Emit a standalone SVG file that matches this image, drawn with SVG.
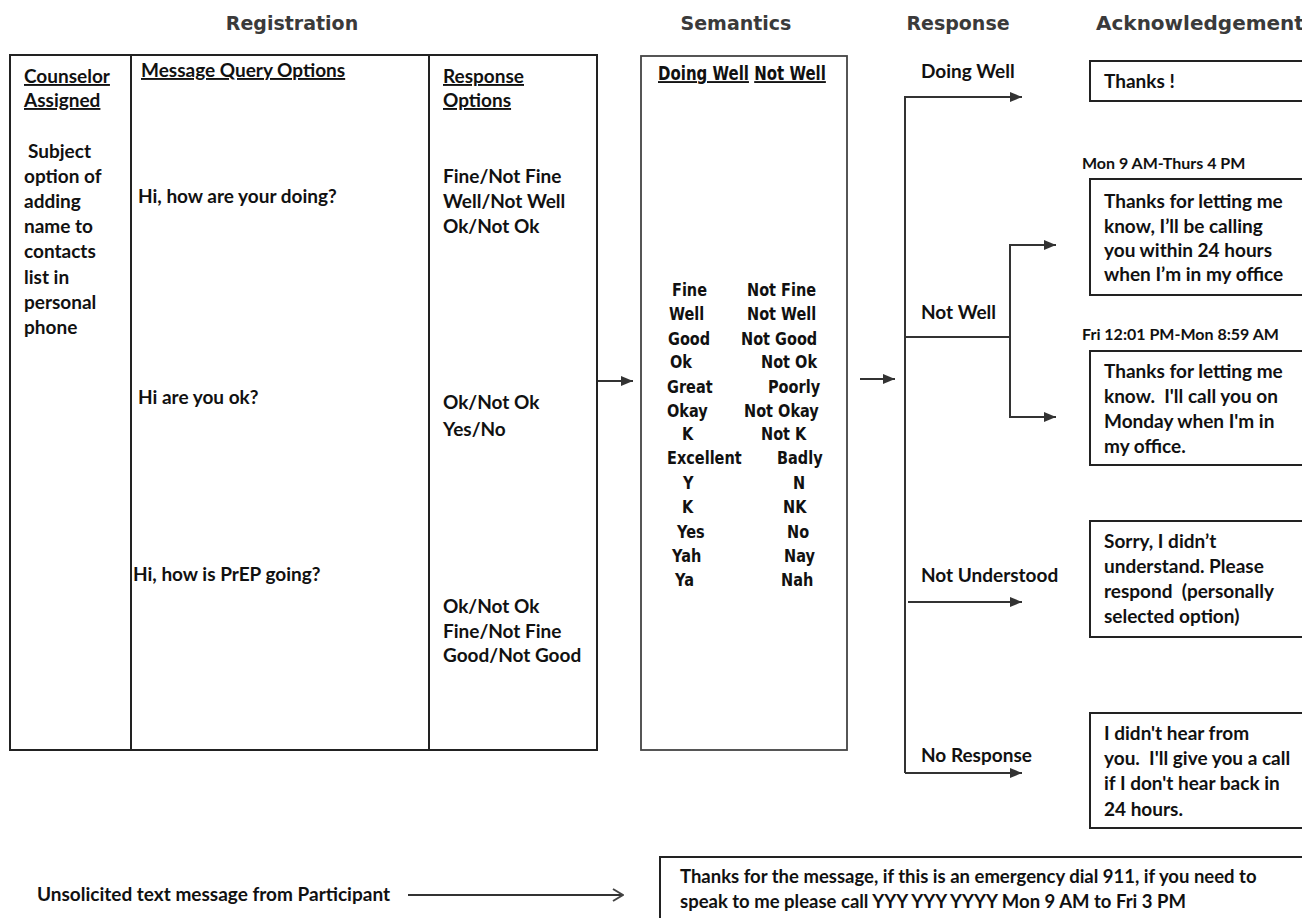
<svg xmlns="http://www.w3.org/2000/svg" width="1302" height="918" viewBox="0 0 1302 918">
<defs>
<style>
.h{font-family:"DejaVu Sans","Liberation Sans",sans-serif;font-weight:bold;font-size:19px;fill:#3a3a3a}
.t{font-family:Lato,"Liberation Sans",sans-serif;font-weight:bold;font-size:19px;fill:#111}
.sm{font-family:Lato,"Liberation Sans",sans-serif;font-weight:bold;font-size:16px;fill:#111}
.b{font-family:Lato,"Liberation Sans",sans-serif;font-weight:bold;font-size:18.5px;fill:#111}
.s{font-family:"DejaVu Sans","Liberation Sans",sans-serif;font-weight:bold;font-size:14.5px;fill:#111}
.u{text-decoration:underline}
.box{fill:#fff;stroke:#222;stroke-width:2}
.sbox{fill:#fff;stroke:#444;stroke-width:1.8}
.ln{fill:none;stroke:#222;stroke-width:2}
.conn{fill:none;stroke:#333;stroke-width:2}
</style>
<marker id="ah" markerUnits="userSpaceOnUse" markerWidth="12" markerHeight="10" viewBox="0 0 12 10" refX="12" refY="5" orient="auto"><path d="M0,0 L12,5 L0,10 z" fill="#333"/></marker>
<marker id="oh" markerUnits="userSpaceOnUse" markerWidth="12" markerHeight="14" viewBox="0 0 12 14" refX="11" refY="7" orient="auto"><path d="M1,1 L11,7 L1,13" fill="none" stroke="#444" stroke-width="2"/></marker>
</defs>
<rect width="1302" height="918" fill="#fff"/>

<g id="headers">
<text class="h" x="292" y="30" text-anchor="middle">Registration</text>
<text class="h" x="736" y="30" text-anchor="middle">Semantics</text>
<text class="h" x="958" y="30" text-anchor="middle">Response</text>
<text class="h" x="1096" y="30" style="font-size:20px">Acknowledgement</text>
</g>

<g id="registration">
<rect class="box" x="10" y="55" width="587" height="695"/>
<line class="ln" x1="131" y1="55" x2="131" y2="750"/>
<line class="ln" x1="429" y1="55" x2="429" y2="750"/>
<text class="t u" x="24" y="83">Counselor</text>
<text class="t u" x="24" y="107">Assigned</text>
<text class="t" x="28" y="158">Subject</text>
<text class="t" x="24" y="183">option of</text>
<text class="t" x="24" y="208">adding</text>
<text class="t" x="24" y="233">name to</text>
<text class="t" x="24" y="258">contacts</text>
<text class="t" x="24" y="284">list in</text>
<text class="t" x="24" y="309">personal</text>
<text class="t" x="24" y="334">phone</text>
<text class="t u" x="141" y="77">Message Query Options</text>
<text class="t" x="138" y="203">Hi, how are your doing?</text>
<text class="t" x="138" y="404">Hi are you ok?</text>
<text class="t" x="133" y="581">Hi, how is PrEP going?</text>
<text class="t u" x="443" y="83">Response</text>
<text class="t u" x="443" y="107">Options</text>
<text class="t" x="443" y="183">Fine/Not Fine</text>
<text class="t" x="443" y="208">Well/Not Well</text>
<text class="t" x="443" y="233">Ok/Not Ok</text>
<text class="t" x="443" y="409">Ok/Not Ok</text>
<text class="t" x="443" y="436">Yes/No</text>
<text class="t" x="443" y="613">Ok/Not Ok</text>
<text class="t" x="443" y="638">Fine/Not Fine</text>
<text class="t" x="443" y="662">Good/Not Good</text>
</g>

<g id="semantics">
<rect class="sbox" x="641" y="56" width="206" height="694"/>
<text class="s" transform="translate(658,80) scale(1,1.25)" style="font-size:15px"><tspan class="u">Doing Well</tspan> <tspan class="u">Not Well</tspan></text>
<g transform="translate(0,296)">
<text class="s" transform="translate(672,0) scale(1,1.25)">Fine</text>
<text class="s" transform="translate(747,0) scale(1,1.25)">Not Fine</text>
</g>
<g transform="translate(0,320)">
<text class="s" transform="translate(669,0) scale(1,1.25)">Well</text>
<text class="s" transform="translate(747,0) scale(1,1.25)">Not Well</text>
</g>
<g transform="translate(0,345)">
<text class="s" transform="translate(668,0) scale(1,1.25)">Good</text>
<text class="s" transform="translate(741,0) scale(1,1.25)">Not Good</text>
</g>
<g transform="translate(0,368)">
<text class="s" transform="translate(670,0) scale(1,1.25)">Ok</text>
<text class="s" transform="translate(761,0) scale(1,1.25)">Not Ok</text>
</g>
<g transform="translate(0,393)">
<text class="s" transform="translate(667,0) scale(1,1.25)">Great</text>
<text class="s" transform="translate(768,0) scale(1,1.25)">Poorly</text>
</g>
<g transform="translate(0,417)">
<text class="s" transform="translate(667,0) scale(1,1.25)">Okay</text>
<text class="s" transform="translate(744,0) scale(1,1.25)">Not Okay</text>
</g>
<g transform="translate(0,440)">
<text class="s" transform="translate(682,0) scale(1,1.25)">K</text>
<text class="s" transform="translate(761,0) scale(1,1.25)">Not K</text>
</g>
<g transform="translate(0,464)">
<text class="s" transform="translate(667,0) scale(1,1.25)">Excellent</text>
<text class="s" transform="translate(777,0) scale(1,1.25)">Badly</text>
</g>
<g transform="translate(0,489)">
<text class="s" transform="translate(683,0) scale(1,1.25)">Y</text>
<text class="s" transform="translate(793,0) scale(1,1.25)">N</text>
</g>
<g transform="translate(0,513)">
<text class="s" transform="translate(682,0) scale(1,1.25)">K</text>
<text class="s" transform="translate(783,0) scale(1,1.25)">NK</text>
</g>
<g transform="translate(0,538)">
<text class="s" transform="translate(677,0) scale(1,1.25)">Yes</text>
<text class="s" transform="translate(787,0) scale(1,1.25)">No</text>
</g>
<g transform="translate(0,562)">
<text class="s" transform="translate(672,0) scale(1,1.25)">Yah</text>
<text class="s" transform="translate(784,0) scale(1,1.25)">Nay</text>
</g>
<g transform="translate(0,586)">
<text class="s" transform="translate(675,0) scale(1,1.25)">Ya</text>
<text class="s" transform="translate(781,0) scale(1,1.25)">Nah</text>
</g>
</g>

<g id="response-labels">
<text class="t" x="921" y="78">Doing Well</text>
<text class="t" x="921" y="319">Not Well</text>
<text class="t" x="921" y="582">Not Understood</text>
<text class="t" x="921" y="762">No Response</text>
</g>

<g id="ack-thanks">
<rect class="box" x="1090" y="61" width="230" height="40"/>
<text class="t" x="1104" y="88">Thanks !</text>
</g>
<g id="ack-weekday">
<text class="sm" x="1082" y="169">Mon 9 AM-Thurs 4 PM</text>
<rect class="box" x="1090" y="179" width="230" height="116"/>
<text class="t" x="1104" y="208">Thanks for letting me</text>
<text class="t" x="1104" y="233">know, I’ll be calling</text>
<text class="t" x="1104" y="257">you within 24 hours</text>
<text class="t" x="1104" y="281">when I’m in my office</text>
</g>
<g id="ack-weekend">
<text class="sm" x="1082" y="340">Fri 12:01 PM-Mon 8:59 AM</text>
<rect class="box" x="1090" y="351" width="230" height="114"/>
<text class="t" x="1104" y="378">Thanks for letting me</text>
<text class="t" x="1104" y="403">know.&#160; I'll call you on</text>
<text class="t" x="1104" y="428">Monday when I'm in</text>
<text class="t" x="1104" y="453">my office.</text>
</g>
<g id="ack-not-understood">
<rect class="box" x="1090" y="521" width="230" height="116"/>
<text class="t" x="1104" y="548">Sorry, I didn’t</text>
<text class="t" x="1104" y="573">understand. Please</text>
<text class="t" x="1104" y="598">respond&#160; (personally</text>
<text class="t" x="1104" y="623">selected option)</text>
</g>
<g id="ack-no-response">
<rect class="box" x="1090" y="713" width="230" height="115"/>
<text class="t" x="1104" y="740">I didn't hear from</text>
<text class="t" x="1104" y="765">you.&#160; I'll give you a call</text>
<text class="t" x="1104" y="790">if I don't hear back in</text>
<text class="t" x="1104" y="816">24 hours.</text>
</g>

<g id="unsolicited">
<text class="t" x="37" y="901">Unsolicited text message from Participant</text>
</g>
<g id="unsolicited-reply">
<rect class="box" x="660" y="857" width="660" height="80"/>
<text class="b" x="680" y="883">Thanks for the message, if this is an emergency dial 911, if you need to</text>
<text class="b" x="680" y="908">speak to me please call YYY YYY YYYY Mon 9 AM to Fri 3 PM</text>
</g>

<g id="connectors">
<path class="conn" d="M598,381 H633" marker-end="url(#ah)"/>
<path class="conn" d="M860,379 H895" marker-end="url(#ah)"/>
<path class="conn" d="M905,773 V97 H1022" marker-end="url(#ah)"/>
<path class="conn" d="M905,337 H1010"/>
<path class="conn" d="M1010,337 V245 H1056" marker-end="url(#ah)"/>
<path class="conn" d="M1010,337 V417 H1056" marker-end="url(#ah)"/>
<path class="conn" d="M908,602 H1022" marker-end="url(#ah)"/>
<path class="conn" d="M905,773 H1022" marker-end="url(#ah)"/>
<path class="conn" d="M408,895 H623" marker-end="url(#oh)"/>
</g>
</svg>
